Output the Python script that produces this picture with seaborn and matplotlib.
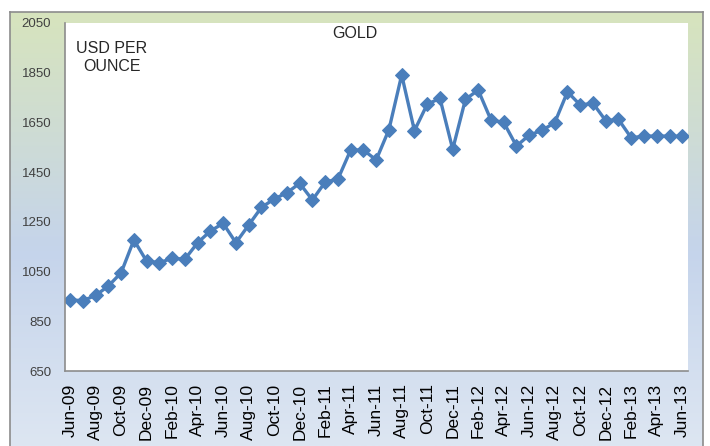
import numpy as np
import pandas as pd
import matplotlib
matplotlib.use('Agg')
import matplotlib.pyplot as plt
import seaborn as sns
from matplotlib.colors import LinearSegmentedColormap

# monthly gold price, Jun-09 .. Jun-13 (USD per ounce)
months = pd.date_range('2009-06-01', periods=49, freq='MS').strftime('%b-%y').tolist()
price = [936, 933, 954, 992, 1045, 1177, 1092, 1086, 1103, 1100,
         1166, 1213, 1244, 1166, 1237, 1308, 1342, 1367, 1405, 1338,
         1410, 1422, 1539, 1539, 1499, 1621, 1841, 1617, 1723, 1747,
         1542, 1743, 1780, 1660, 1650, 1555, 1599, 1618, 1649, 1773,
         1720, 1727, 1657, 1662, 1588, 1595, 1595, 1595, 1594]
tick_labels = months[::2]
y_ticks = [650, 850, 1050, 1250, 1450, 1650, 1850, 2050]

df = pd.DataFrame({'idx': range(len(price)), 'month': months, 'price': price})

sns.set_style('white')
plt.rcParams['font.family'] = ['Liberation Sans', 'DejaVu Sans']

W, H = 710, 446
fig = plt.figure(figsize=(W / 100, H / 100), dpi=100)
fig.patch.set_facecolor('white')

# gradient frame behind the plot
bg = fig.add_axes([10 / W, 0, 693 / W, 434 / H])
cmap = LinearSegmentedColormap.from_list('bg', [(0, '#d7e4bd'), (0.55, '#c5d4eb'), (1, '#dde6f2')])
grad = np.linspace(0, 1, 256).reshape(-1, 1)
bg.imshow(grad, aspect='auto', cmap=cmap, extent=[0, 1, 0, 1], origin='upper')
bg.set_xticks([])
bg.set_yticks([])
for side in ['left', 'right', 'top']:
    bg.spines[side].set_color('#8c8c8c')
    bg.spines[side].set_linewidth(1.2)
bg.spines['bottom'].set_visible(False)

ax = fig.add_axes([65 / W, (H - 371) / H, 623 / W, 348 / H])
ax.set_facecolor('white')
sns.lineplot(data=df, x='idx', y='price', ax=ax, color='#4a7ebb', linewidth=2.4,
             marker='D', markersize=7, markeredgecolor='#4a7ebb')

ax.set_xlim(-0.4, 48.45)
ax.set_ylim(650, 2050)
ax.set_yticks(y_ticks)
ax.set_xticks(df['idx'][::2])
ax.set_xticklabels(tick_labels, rotation=90, fontsize=12.5, color='black')
ax.tick_params(axis='x', length=0, pad=9)
ax.tick_params(axis='y', length=0, pad=10, labelsize=9.5, labelcolor='#404040')
ax.set_xlabel('')
ax.set_ylabel('')
for side in ['top', 'right']:
    ax.spines[side].set_visible(False)
for side in ['left', 'bottom']:
    ax.spines[side].set_color('#8c8c8c')
    ax.spines[side].set_linewidth(1.2)

fig.text(355 / W, 1 - 33 / H, 'GOLD', ha='center', va='center', fontsize=11.5)
fig.text(112 / W, 1 - 58 / H, 'USD PER\nOUNCE', ha='center', va='center', fontsize=11.5,
         multialignment='center', linespacing=1.25)

fig.savefig('out.png', dpi=100, facecolor='white')
